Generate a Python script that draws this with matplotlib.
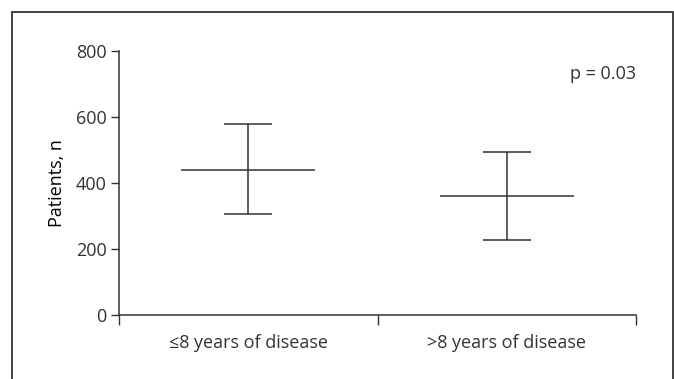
import matplotlib.pyplot as plt
from matplotlib.patches import Rectangle

# values
groups = ["\u22648 years of disease", ">8 years of disease"]
means = [440, 361]
lower = [306, 227]
upper = [578, 494]
yticks = [0, 200, 400, 600, 800]
p_text = "p = 0.03"

ink = "#333333"
plt.rcParams['font.family'] = ['Open Sans', 'DejaVu Sans']
plt.rcParams['text.color'] = ink
plt.rcParams['xtick.color'] = ink
plt.rcParams['ytick.color'] = ink
plt.rcParams['axes.edgecolor'] = ink

fig = plt.figure(figsize=(6.74, 3.79), dpi=100)
ax = fig.add_axes([119 / 674, 1 - 315 / 379, (636 - 119) / 674, (315 - 51) / 379])

# frame around the whole figure (bottom edge runs off the image)
fig.patches.append(Rectangle((12 / 674, -0.05), (672.5 - 12) / 674, 1.05 - 11.5 / 379,
                             transform=fig.transFigure, fill=False,
                             edgecolor=ink, lw=1.3))

centers = [i + 0.5 for i in range(len(groups))]
yerr = [[m - lo for m, lo in zip(means, lower)], [hi - m for m, hi in zip(means, upper)]]
ax.errorbar(centers, means, yerr=yerr, fmt='none', ecolor=ink, elinewidth=1.1,
            capsize=17, capthick=1.1)
ax.hlines(means, [c - 0.26 for c in centers], [c + 0.26 for c in centers],
          color=ink, lw=1.1)

ax.set_xlim(0, len(groups))
ax.set_ylim(0, 800)
ax.set_yticks(yticks)
ax.set_xticks(range(len(groups) + 1))
ax.set_xticklabels([])
ax.set_xticks(centers, minor=True)
ax.set_xticklabels(groups, minor=True, fontsize=13)
ax.tick_params(axis='x', which='major', length=7, width=1, direction='out')
ax.tick_params(axis='x', which='minor', length=0, pad=14)
ax.tick_params(axis='y', length=6, width=1, labelsize=13, pad=3)

for s in ['top', 'right']:
    ax.spines[s].set_visible(False)
for s in ['left', 'bottom']:
    ax.spines[s].set_linewidth(1.1)

ax.set_ylabel("Patients, n", fontsize=13, labelpad=7)
ax.text(2, 730, p_text, ha='right', va='center', fontsize=13)

fig.savefig("out.png", dpi=100)
